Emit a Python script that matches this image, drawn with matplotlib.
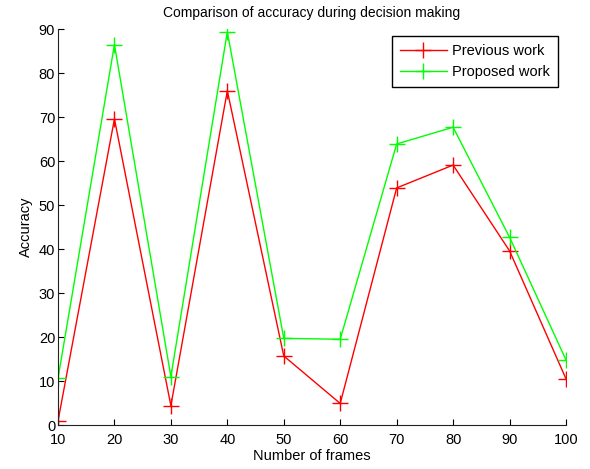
import matplotlib.pyplot as plt
import numpy as np

plt.rcParams['font.family'] = ['Liberation Sans', 'DejaVu Sans']

# data
frames = [10, 20, 30, 40, 50, 60, 70, 80, 90, 100]
previous_work = [0.9, 69.6, 4.4, 76.0, 15.7, 4.9, 53.9, 59.1, 39.6, 10.5]
proposed_work = [10.6, 86.5, 11.0, 89.4, 19.7, 19.5, 63.9, 67.7, 42.7, 14.8]
xticks = [10, 20, 30, 40, 50, 60, 70, 80, 90, 100]
yticks = [0, 10, 20, 30, 40, 50, 60, 70, 80, 90]

fig = plt.figure(figsize=(5.9, 4.69), dpi=100)
ax = fig.add_axes([0.0983, 0.0938, 0.861, 0.844])

ax.plot(frames, previous_work, color='#ff0000', marker='+', markersize=11,
        markeredgewidth=1, linewidth=1, label='Previous work')
ax.plot(frames, proposed_work, color='#00ff00', marker='+', markersize=11,
        markeredgewidth=1, linewidth=1, label='Proposed work')

ax.set_xlim(10, 100)
ax.set_ylim(0, 90)
ax.set_xticks(xticks)
ax.set_yticks(yticks)
ax.tick_params(direction='in', length=4, labelsize=10.5, width=0.8)
ax.tick_params(axis='y', pad=2)
ax.tick_params(axis='x', pad=6)
ax.spines['top'].set_visible(False)
ax.spines['right'].set_visible(False)
for s in ['left', 'bottom']:
    ax.spines[s].set_linewidth(0.8)
    ax.spines[s].set_color('#222222')

ax.set_title('Comparison of accuracy during decision making', fontsize=10, pad=9)
ax.set_xlabel('Number of frames', fontsize=10.5, labelpad=1)
ax.set_ylabel('Accuracy', fontsize=10.5, labelpad=4)

leg = ax.legend(loc='upper right', bbox_to_anchor=(0.985, 0.982), fontsize=10.5,
                fancybox=False, framealpha=1, edgecolor='black',
                handlelength=3.2, borderpad=0.55, labelspacing=0.45,
                handletextpad=0.4, borderaxespad=0)
leg.get_frame().set_linewidth(1)

fig.savefig('out.png', dpi=100)
